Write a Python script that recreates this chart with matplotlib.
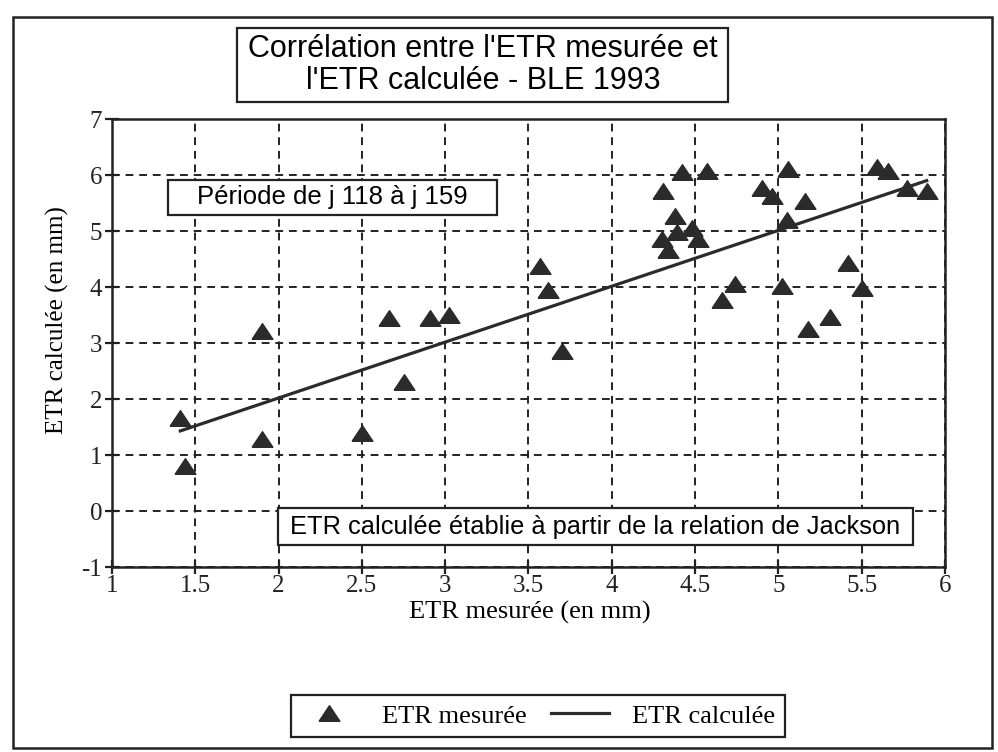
import numpy as np
import matplotlib
matplotlib.use('Agg')
import matplotlib.pyplot as plt
from matplotlib.patches import Rectangle

plt.rcParams['axes.unicode_minus'] = False

# ETR mesurée (x) / ETR calculée (y), mm
etr_mesuree = [1.41, 1.44, 1.90, 1.90, 2.50, 2.66, 2.75, 2.91, 3.02, 3.57, 3.62, 3.70,
               4.30, 4.31, 4.34, 4.38, 4.39, 4.42, 4.48, 4.52, 4.57, 4.66, 4.74, 4.90,
               4.96, 5.02, 5.05, 5.06, 5.16, 5.18, 5.31, 5.42, 5.50, 5.59, 5.66, 5.77, 5.89]
etr_calculee = [1.66, 0.80, 3.22, 1.29, 1.40, 3.45, 2.31, 3.45, 3.50, 4.38, 3.94, 2.86,
                4.86, 5.71, 4.66, 5.27, 4.98, 6.05, 5.05, 4.85, 6.07, 3.76, 4.05, 5.76,
                5.62, 4.01, 5.19, 6.10, 5.53, 3.25, 3.46, 4.43, 3.99, 6.14, 6.07, 5.76, 5.72]
# droite ETR calculée (Jackson)
line_x = [1.41, 5.89]
line_y = [1.43, 5.90]

x_ticks = [1, 1.5, 2, 2.5, 3, 3.5, 4, 4.5, 5, 5.5, 6]
x_labels = ['1', '1.5', '2', '2.5', '3', '3.5', '4', '4.5', '5', '5.5', '6']
y_ticks = [-1, 0, 1, 2, 3, 4, 5, 6, 7]

titre = "Corrélation entre l'ETR mesurée et\nl'ETR calculée - BLE 1993"
note_periode = "Période de j 118 à j 159"
note_jackson = "ETR calculée établie à partir de la relation de Jackson"

serif = ['Liberation Serif', 'DejaVu Serif']
sans = ['Liberation Sans', 'DejaVu Sans']

fig = plt.figure(figsize=(9.98, 7.52), dpi=100)
ax = fig.add_axes([0.1122, 0.246, 0.8347, 0.5957])

tri = [(-1, -0.75), (1, -0.75), (0, 0.75), (-1, -0.75)]
ax.plot(etr_mesuree, etr_calculee, linestyle='none', marker=tri, markersize=15,
        color='#2b2b2b', label='ETR mesurée', zorder=3)
ax.plot(line_x, line_y, color='#2b2b2b', linewidth=2.3, label='ETR calculée', zorder=4)

ax.set_xlim(1, 6)
ax.set_ylim(-1, 7)
ax.set_xticks(x_ticks)
ax.set_xticklabels(x_labels)
ax.set_yticks(y_ticks)
ax.grid(True, color='#222222', linestyle=(0, (4, 3)), linewidth=1.4)
ax.tick_params(direction='inout', length=10, width=1.6, labelsize=18,
               colors='#222222')
ax.tick_params(axis='x', pad=1)
ax.tick_params(axis='y', pad=2)
for lab in ax.get_xticklabels() + ax.get_yticklabels():
    lab.set_family(serif)
for sp in ax.spines.values():
    sp.set_linewidth(1.8)
    sp.set_color('#222222')

fig.text(0.531, 0.186, 'ETR mesurée (en mm)', family=serif, fontsize=19,
         ha='center', va='center')
fig.text(0.058, 0.575, 'ETR calculée (en mm)', family=serif, fontsize=18,
         ha='center', va='center', rotation=90)

# cadre général
fig.patches.append(Rectangle((0.013, 0.005), 0.981, 0.972, transform=fig.transFigure,
                             fill=False, edgecolor='#222222', linewidth=1.8))
# titre
fig.patches.append(Rectangle((0.2375, 0.8644), 0.492, 0.0984, transform=fig.transFigure,
                             facecolor='white', edgecolor='#222222', linewidth=1.6))
fig.text(0.484, 0.9135, titre, family=sans, fontsize=22, ha='center', va='center',
         linespacing=1.05)

# notes
fig.patches.append(Rectangle((0.1683, 0.7141), 0.3297, 0.0465, transform=fig.transFigure,
                             facecolor='white', edgecolor='#222222', linewidth=1.6, zorder=5))
fig.text(0.1974, 0.7374, note_periode, family=sans, fontsize=18.5, ha='left',
         va='center', zorder=6)
fig.patches.append(Rectangle((0.2786, 0.2753), 0.6362, 0.0492, transform=fig.transFigure,
                             facecolor='white', edgecolor='#222222', linewidth=1.6, zorder=5))
fig.text(0.5962, 0.2992, note_jackson, family=sans, fontsize=18.3, ha='center',
         va='center', zorder=6)

leg = fig.legend(loc='center', bbox_to_anchor=(0.539, 0.048), ncol=2, frameon=True,
                 fancybox=False, edgecolor='#222222', framealpha=1, borderpad=0.35,
                 handlelength=2.2, columnspacing=0.9, handletextpad=0.9,
                 prop={'family': serif, 'size': 19})
leg.get_frame().set_linewidth(1.6)

fig.savefig('out.png', dpi=100)
